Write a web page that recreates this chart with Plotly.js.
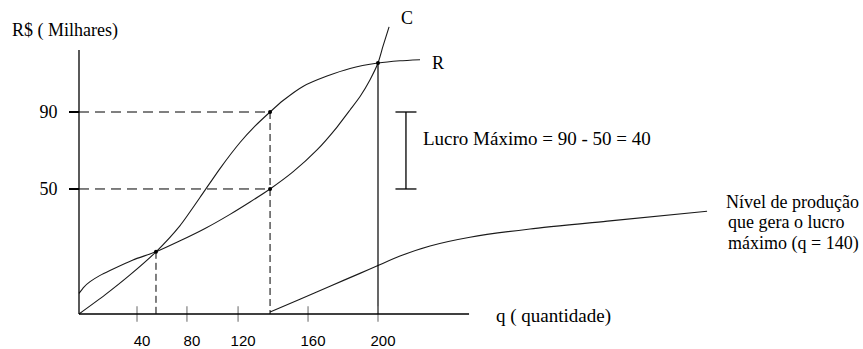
<!DOCTYPE html>
<html><head><meta charset="utf-8">
<script src="https://cdn.plot.ly/plotly-3.0.1.min.js"></script>
<style>html,body{margin:0;padding:0;background:#fff}#chart{width:863px;height:349px}</style>
</head><body><div id="chart"></div>
<script>
// Values (horizontal = q as placed on the drawing, vertical = R$ mil as drawn)
const rQ   = [0, 17.4, 34.1, 51.5, 67.6, 80.9, 94.3, 107.7, 117.7, 127.8, 136.5, 149.8, 165.9, 181.3, 200, 214.7, 228.1];
const rVal = [0, 8.5, 17.4, 27.7, 39.4, 51.9, 64.8, 76.4, 83.7, 90.0, 95.1, 101.4, 106.0, 109.4, 111.8, 112.8, 113.3];
const cQ   = [0, 3.3, 7.4, 14.1, 20.7, 36.1, 51.5, 67.6, 84.3, 101.0, 114.4, 127.8, 143.1, 159.2, 172.6, 181.3, 188.0, 194.6, 200, 203.3, 207.4];
const cVal = [9.2, 12.0, 14.4, 17.2, 19.4, 24.1, 27.7, 32.6, 38.1, 44.4, 49.9, 55.7, 63.3, 73.1, 83.3, 90.9, 96.9, 104.3, 111.8, 119.2, 127.9];
const nQ   = [127.8, 147.8, 167.9, 187.9, 200, 214.7, 234.8, 261.5, 301.7, 355.2, 420.1];
const nVal = [0.9, 6.6, 12.4, 18.1, 21.6, 25.8, 30.3, 34.2, 37.9, 41.5, 45.8];

const breakEvenQ = 51.5, breakEvenVal = 27.7;
const optQ = 127.8, optR = 90, optC = 55.7;
const capQ = 200, capVal = 111.8;
const bracketQ = 218.7;
const axisXEnd = 260.9, axisYTop = 117.6;

const xTickVals = [38.8, 72.2, 106.4, 153.2, 200];
const xTickText = ['40', '80', '120', '160', '200'];
const yTickVals = [optC, optR];
const yTickText = ['50', '90'];

const ink = '#000', curve = '#1a1a1a';
const serif = 'Liberation Serif';
const serifFont = {family: serif, size: 18, color: ink};
const bigFont = {family: serif, size: 19, color: ink};

const traces = [
  {x: rQ, y: rVal, mode: 'lines', line: {color: curve, width: 1.1, shape: 'spline', smoothing: 0.6}},
  {x: cQ, y: cVal, mode: 'lines', line: {color: curve, width: 1.1, shape: 'spline', smoothing: 0.6}},
  {x: nQ, y: nVal, mode: 'lines', line: {color: curve, width: 1.1, shape: 'spline', smoothing: 0.6}},
  {x: [0, optQ, null, 0, optQ], y: [optR, optR, null, optC, optC], mode: 'lines',
   line: {color: ink, width: 1, dash: '10px,6px'}},
  {x: [optQ, optQ, null, breakEvenQ, breakEvenQ], y: [optR, 0, null, breakEvenVal, 0], mode: 'lines',
   line: {color: ink, width: 1, dash: '7px,4px'}},
  {x: [capQ, capQ], y: [0, capVal], mode: 'lines', line: {color: ink, width: 1.2}},
  {x: [bracketQ, bracketQ], y: [optC, optR], mode: 'lines+markers', cliponaxis: false,
   line: {color: ink, width: 1.3}, marker: {symbol: 'line-ew-open', size: 15, line: {color: ink, width: 1.3}}},
  {x: xTickVals, y: xTickVals.map(() => 0), mode: 'markers', cliponaxis: false,
   marker: {symbol: 'line-ns-open', size: 11, line: {color: ink, width: 1.2}}},
  {x: [breakEvenQ, optQ, optQ, capQ], y: [breakEvenVal, optR, optC, capVal], mode: 'markers',
   marker: {color: ink, size: 4}}
];

const layout = {
  width: 863, height: 349,
  margin: {l: 70, r: 0, t: 0, b: 23, pad: 0},
  paper_bgcolor: '#fff', plot_bgcolor: '#fff',
  showlegend: false,
  xaxis: {range: [-6.02, 524.41], anchor: 'free', position: 12 / 326,
    showgrid: false, zeroline: false, showline: false, ticks: '',
    tickmode: 'array', tickvals: xTickVals, ticktext: xTickText,
    ticklabelshift: 5, ticklabelstandoff: 16,
    tickfont: {family: 'Liberation Sans', size: 15, color: ink}},
  yaxis: {range: [-5.347, 139.9], anchor: 'free', position: 9 / 793,
    showgrid: false, zeroline: false, showline: false,
    ticks: 'outside', ticklen: 10, tickwidth: 1.2, tickcolor: ink,
    tickmode: 'array', tickvals: yTickVals, ticktext: yTickText,
    ticklabelstandoff: 8,
    tickfont: serifFont},
  shapes: [
    {type: 'line', xref: 'x', yref: 'y', x0: 0, x1: 0, y0: 0, y1: axisYTop, line: {color: ink, width: 1.3}},
    {type: 'line', xref: 'x', yref: 'y', x0: 0, x1: axisXEnd, y0: 0, y1: 0, line: {color: ink, width: 1.3}}
  ],
  annotations: [
    {text: 'R$ ( Milhares)', xref: 'paper', yref: 'paper', x: -0.0756, y: 0.905, xanchor: 'left', yanchor: 'middle'},
    {text: 'C', x: 219.4, y: 131.9, xanchor: 'center', yanchor: 'middle'},
    {text: 'R', x: 239.8, y: 111.8, xanchor: 'center', yanchor: 'middle'},
    {text: 'Lucro Máximo = 90 - 50 = 40', x: 228.8, y: 78.4, xanchor: 'left', yanchor: 'middle', font: bigFont},
    {text: 'q ( quantidade)', x: 277.6, y: -0.9, xanchor: 'left', yanchor: 'middle', font: bigFont},
    {text: 'Nível de produção', x: 431.4, y: 49.9, xanchor: 'left', yanchor: 'middle'},
    {text: 'que gera o lucro', x: 432.8, y: 40.8, xanchor: 'left', yanchor: 'middle'},
    {text: 'máximo (q = 140)', x: 432.8, y: 31.6, xanchor: 'left', yanchor: 'middle'}
  ].map(a => Object.assign({xref: 'x', yref: 'y', showarrow: false, font: serifFont}, a))
};

Plotly.newPlot('chart', traces, layout, {displayModeBar: false, staticPlot: true});
</script>
</body></html>
